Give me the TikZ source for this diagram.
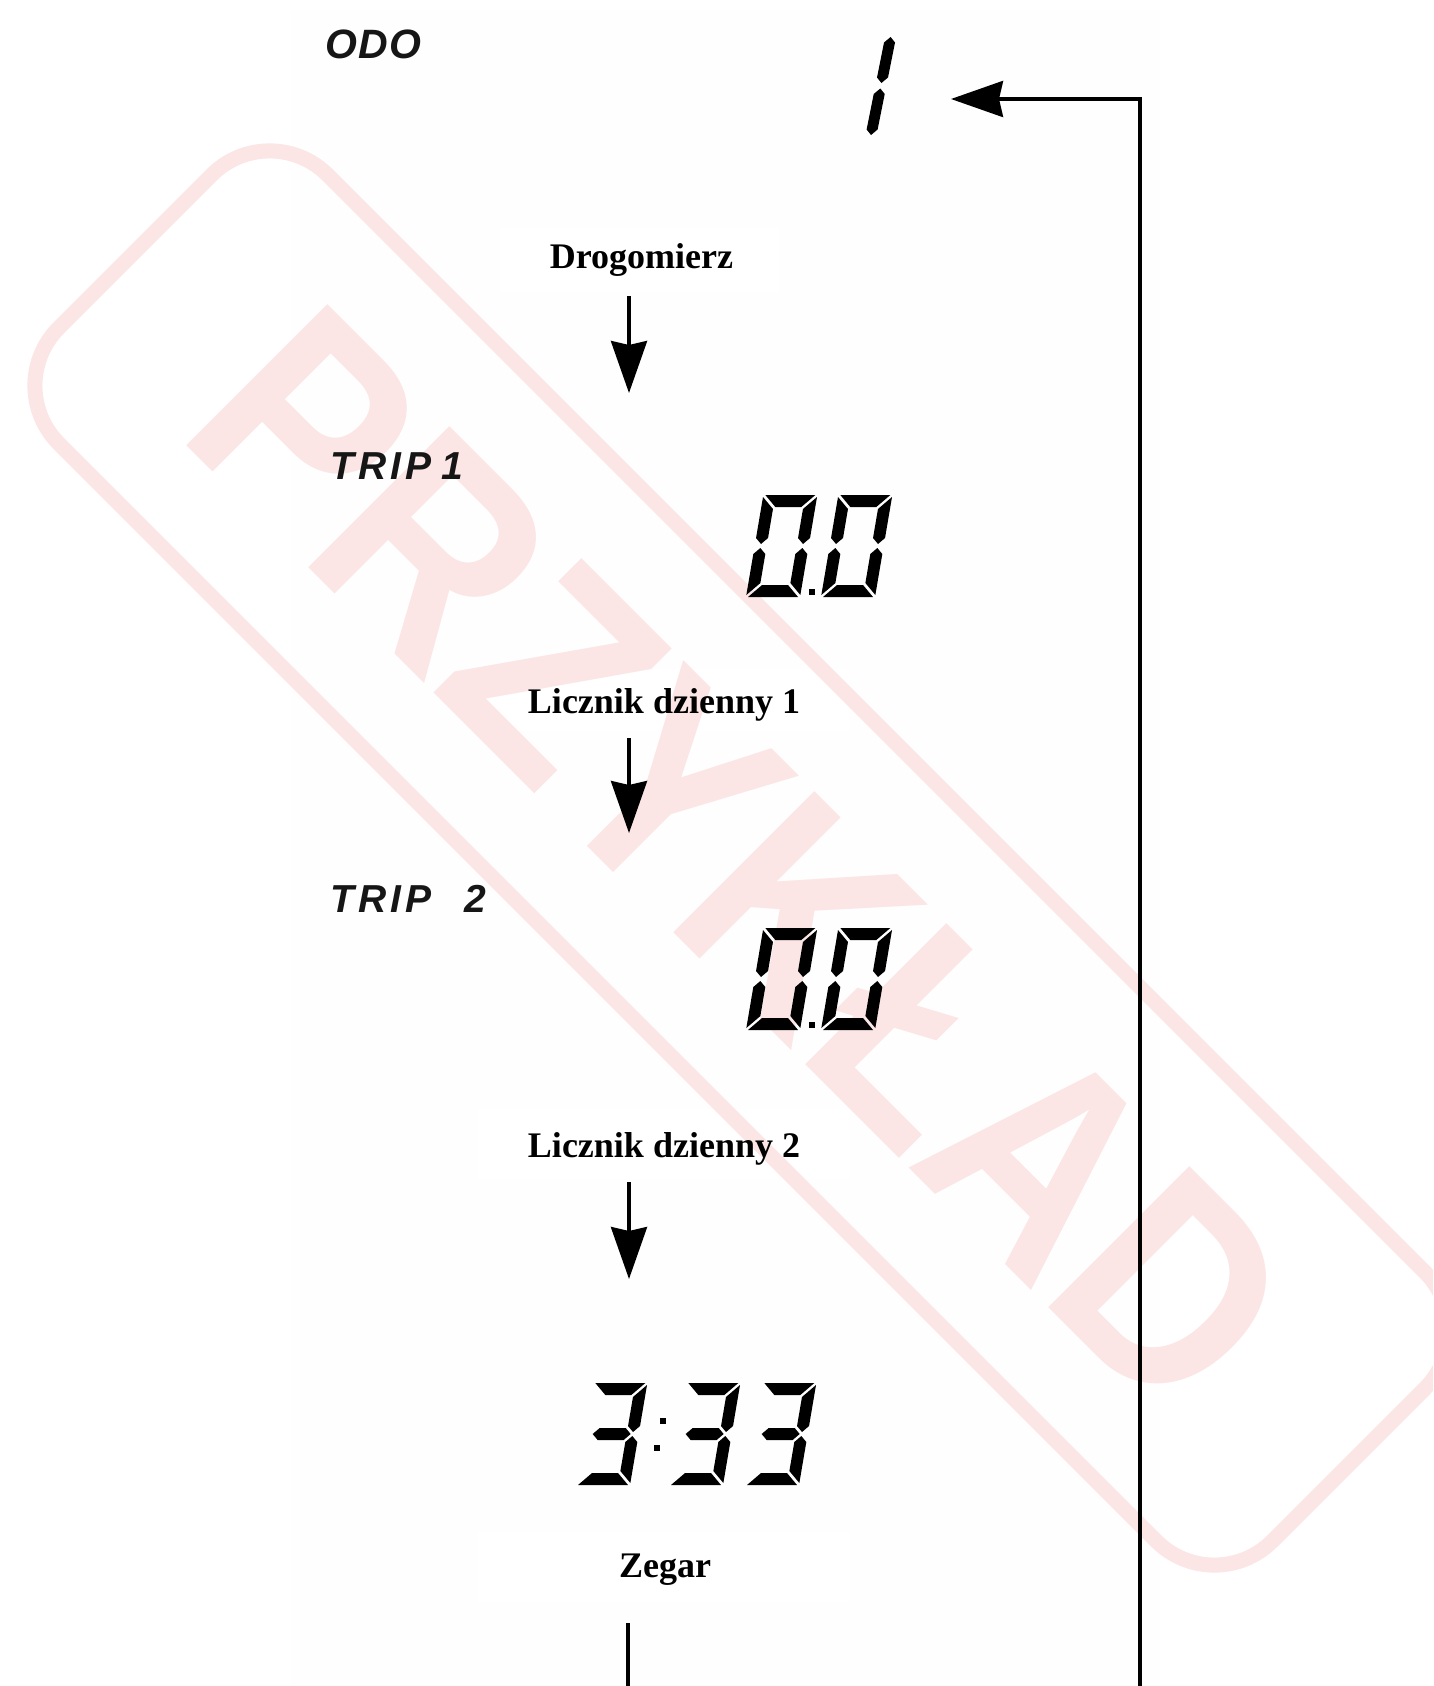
\documentclass[tikz,border=0pt]{standalone}
\usepackage{fontspec}
\setmainfont{Liberation Serif}
\newfontfamily\lcdsans{Liberation Sans}
\usetikzlibrary{arrows.meta}
\definecolor{wm}{RGB}{251,229,229}
\definecolor{panelc}{RGB}{254,254,254}
\definecolor{lcdink}{RGB}{22,22,22}

% seven-segment pieces, local box 54 x 102, origin bottom-left
\newcommand{\sgA}{\fill (2,102) -- (52,102) -- (40,90) -- (14,90) -- cycle;}
\newcommand{\sgB}{\fill (54,100) -- (54,59) -- (48,53) -- (42,59) -- (42,88) -- cycle;}
\newcommand{\sgC}{\fill (54,2) -- (54,43) -- (48,49) -- (42,43) -- (42,14) -- cycle;}
\newcommand{\sgD}{\fill (2,0) -- (52,0) -- (40,12) -- (14,12) -- cycle;}
\newcommand{\sgE}{\fill (0,2) -- (0,43) -- (6,49) -- (12,43) -- (12,14) -- cycle;}
\newcommand{\sgF}{\fill (0,100) -- (0,59) -- (6,53) -- (12,59) -- (12,88) -- cycle;}
\newcommand{\sgG}{\fill (8,51) -- (14,57) -- (40,57) -- (46,51) -- (40,45) -- (14,45) -- cycle;}
\newcommand{\lcddigit}[3]{%
  \begin{scope}[shift={(#1,#2)},xslant=0.17]
    \foreach \s in {#3}{\csname sg\s\endcsname}
  \end{scope}}

\tikzset{
  lbl/.style={font=\bfseries\fontsize{36}{40}\selectfont, inner sep=0pt, anchor=base},
  lcdlbl/.style={font=\lcdsans\bfseries\itshape\fontsize{39}{42}\selectfont, inner sep=0pt, anchor=base west, text=lcdink},
  conn/.style={line width=3.5pt, -{Stealth[length=52pt,width=36pt,inset=4pt]}},
  plainline/.style={line width=3.5pt},
  labelbox/.style={fill=white, draw=none}
}

\begin{document}
\begin{tikzpicture}[x=1pt,y=1pt]
\useasboundingbox (0,0) rectangle (1433,-1686);
\clip (0,0) rectangle (1433,-1686);
\fill[white] (0,0) rectangle (1433,-1686);

% faint panel and label boxes
\fill[panelc] (291,-10) rectangle (1160,-1686);
\fill[labelbox] (500,-228) rectangle (779,-292);
\fill[labelbox] (478,-669) rectangle (849,-731);
\fill[labelbox] (478,-1109) rectangle (849,-1179);
\fill[labelbox] (478,-1532) rectangle (849,-1602);

% watermark
\begin{scope}[rotate around={-45:(742,-858)}]
  \draw[wm, line width=15pt, rounded corners=82pt] (-116,-1048) rectangle (1600,-668);
\end{scope}
\node[rotate=-45, text=wm, inner sep=0pt, font=\lcdsans\bfseries\fontsize{290}{290}\selectfont] (wmtext) at (742,-860) {\scalebox{0.89}[1]{PRZYKŁAD}};

% LCD captions
\node[lcdlbl, font=\lcdsans\bfseries\itshape\fontsize{41}{44}\selectfont] (odo) at (325,-59) {O\kern1.5pt D\kern1.5pt O};
\node[lcdlbl] (trip1) at (330,-479) {T\kern4pt R\kern4pt I\kern4pt P 1};
\node[lcdlbl] (trip2) at (330,-912) {T\kern4pt R\kern4pt I\kern4pt P\hspace{33pt}2};

% ODO "1"
\begin{scope}[shift={(871,-135)},xslant=0.2]
  \fill (0,0) -- (5.5,5.5) -- (5.5,41) -- (0,46.5) -- (-5.5,41) -- (-5.5,5.5) -- cycle;
  \fill (0,52) -- (5.5,57.5) -- (5.5,92.5) -- (0,98) -- (-5.5,92.5) -- (-5.5,57.5) -- cycle;
\end{scope}

% TRIP 1  0.0
\lcddigit{746}{-597}{A,B,C,D,E,F}
\lcddigit{821}{-597}{A,B,C,D,E,F}
\fill (809,-589) rectangle (815,-595);

% TRIP 2  0.0
\lcddigit{746}{-1030}{A,B,C,D,E,F}
\lcddigit{821}{-1030}{A,B,C,D,E,F}
\fill (809,-1022) rectangle (815,-1028);

% 3:33
\lcddigit{576}{-1485}{A,B,C,D,G}
\lcddigit{669}{-1485}{A,B,C,D,G}
\lcddigit{745}{-1485}{A,B,C,D,G}
\fill (660,-1418) rectangle (666,-1424);
\fill (654,-1445) rectangle (660,-1451);

% labels
\node[lbl] (drog) at (641.5,-268) {Drogomierz};
\node[lbl] (lic1) at (664,-713) {Licznik dzienny 1};
\node[lbl] (lic2) at (664,-1157) {Licznik dzienny 2};
\node[lbl] (zeg) at (665,-1577) {Zegar};

% connectors
\coordinate (a1s) at (629,-296); \coordinate (a1e) at (629,-393);
\coordinate (a2s) at (629,-738); \coordinate (a2e) at (629,-833);
\coordinate (a3s) at (629,-1182); \coordinate (a3e) at (629,-1279);
\coordinate (zs) at (628,-1623); \coordinate (zb) at (628,-1686);
\coordinate (rb) at (1140,-1686); \coordinate (rt) at (1140,-99);
\coordinate (onein) at (951,-99);
\draw[conn] (a1s) -- (a1e);
\draw[conn] (a2s) -- (a2e);
\draw[conn] (a3s) -- (a3e);
\draw[plainline] (zs) -- (zb);
\draw[conn] (rb) -- (rt) -- (onein);
\end{tikzpicture}
\end{document}
